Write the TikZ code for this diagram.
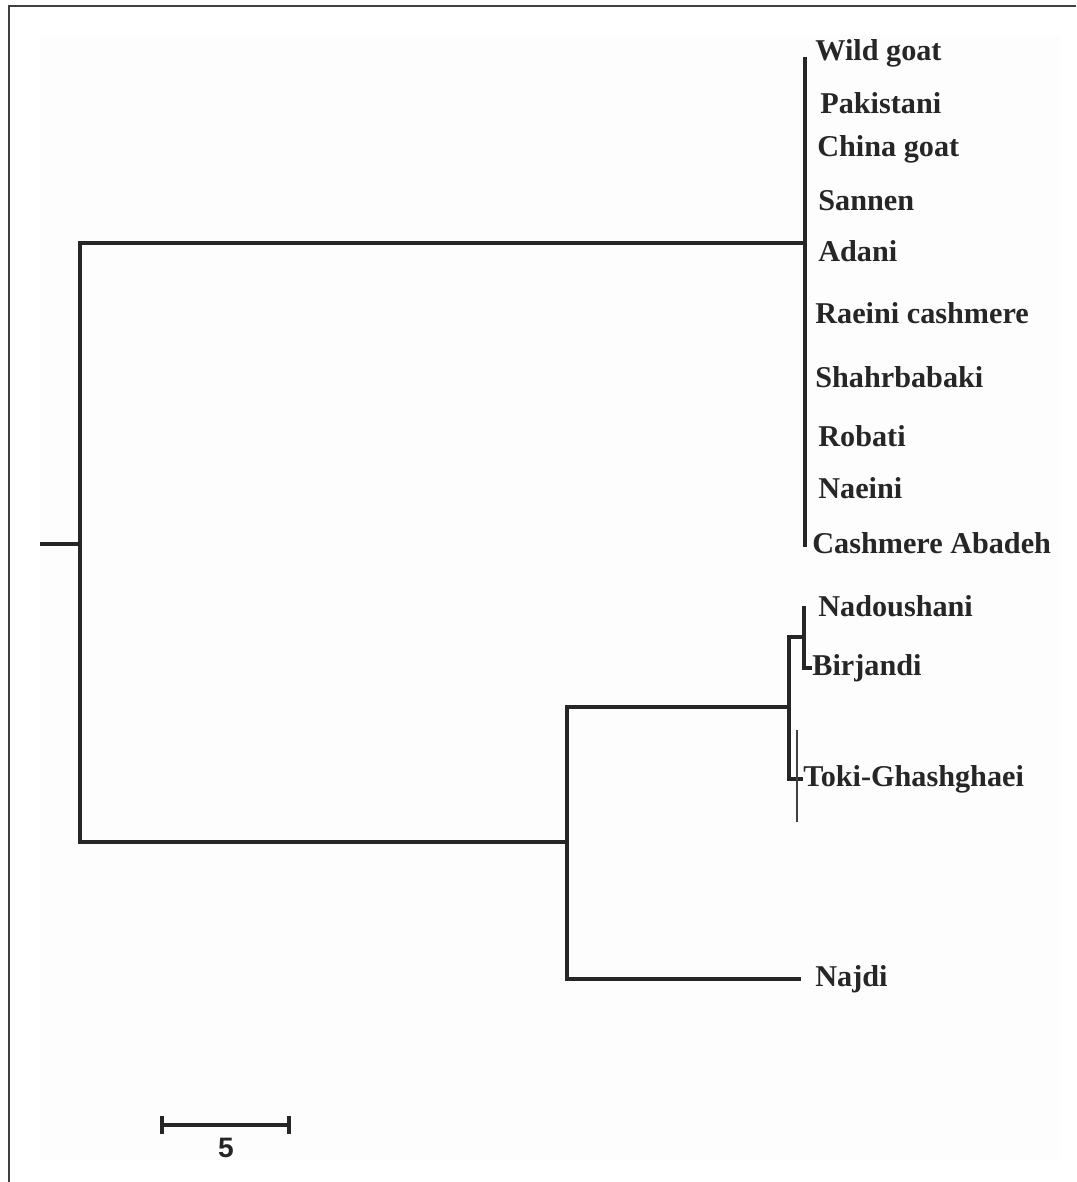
\documentclass[tikz,border=0pt]{standalone}
\usepackage{fontspec}
\setmainfont{Liberation Serif}
\newfontfamily\barfont{Liberation Sans}
\usetikzlibrary{positioning}
\usetikzlibrary {arrows.meta}
\tikzset{branch/.style={line width=2pt,draw=black!85}}
\tikzset{thinbranch/.style={line width=0.6pt,draw=black!75}}
\tikzset{leaf/.style={anchor=west,inner sep=0pt,text=black!85,
font=\bfseries\fontsize{17.2}{20}\selectfont}}
\tikzset{scalelabel/.style={inner sep=0pt,text=black!85,
font=\barfont\bfseries\fontsize{16}{18}\selectfont}}

\begin{document}
\begin{tikzpicture}[x=0.02cm,y=-0.02cm]
        \useasboundingbox (0,0) rectangle (1076,1182);
        \fill[black!0.7] (40,35) rectangle (1060,1160);
        \draw[line width=1.2pt,black!75] (9,1182) -- (9,6) -- (1076,6);

        % inner nodes of the tree
        \coordinate (root) at (40,544);
        \coordinate (nA) at (80,544);
        \coordinate (nTop) at (805,243);
        \coordinate (nBot) at (567,842);
        \coordinate (nMid) at (789,707);
        \coordinate (nNB) at (804,637);

        % leaves
        \node[leaf] (wild) at (815,53) {Wild goat};
        \node[leaf] (pak) at (820,103) {Pakistani};
        \node[leaf] (china) at (817,149) {China goat};
        \node[leaf] (sannen) at (818,201) {Sannen};
        \node[leaf] (adani) at (818,251) {Adani};
        \node[leaf] (raeini) at (815,313) {Raeini cashmere};
        \node[leaf] (shahr) at (815,377) {Shahrbabaki};
        \node[leaf] (robati) at (818,436) {Robati};
        \node[leaf] (naeini) at (818,488) {Naeini};
        \node[leaf] (abadeh) at (812,543) {Cashmere Abadeh};
        \node[leaf] (nado) at (818,606) {Nadoushani};
        \node[leaf] (birj) at (812,668) {Birjandi};
        \node[leaf] (toki) at (803,779) {Toki-Ghashghaei};
        \node[leaf] (najdi) at (815,979) {Najdi};

        % branches
        \draw[branch] (root) -- (nA);
        \draw[branch] (nTop) -| (nA) |- (nBot);
        \draw[branch] ([yshift=-2pt]wild.west -| nTop) -- ([yshift=-2pt]abadeh.west -| nTop);
        \draw[branch] (nMid) -| (nBot) |- ([xshift=-8pt]najdi.west);
        \draw[branch] (nNB) -| (nMid) |- (toki.west);
        \draw[branch] (nado.west -| nNB) -- (birj.west -| nNB) -- (birj.west);
        \draw[thinbranch] (797,730) -- (797,822);

        % scale bar
        \coordinate (sbL) at (160,1125);
        \coordinate (sbR) at (291,1125);
        \coordinate (sbMid) at (226,1125);
        \draw[branch,{Bar[width=10pt]}-{Bar[width=10pt]}] (sbL) -- (sbR);
        \node[scalelabel, below=7pt of sbMid] (sbNum) {5};

    \end{tikzpicture}
\end{document}
